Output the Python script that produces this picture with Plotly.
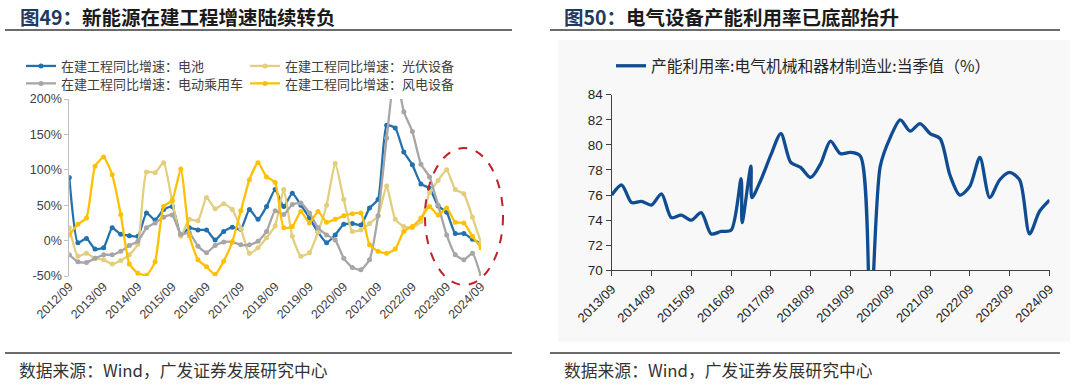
import plotly.graph_objects as go

W, H = 1080, 387
def px(x): return x / W
def py(y): return 1 - y / H

CJK = "Noto Sans CJK SC"
NUM = "Liberation Sans, Arial"

# ---------------- Left chart data (在建工程同比增速, %) ----------------
quarters = [f"{2012 + (8 + 3 * k) // 12}/{(8 + 3 * k) % 12 + 1:02d}" for k in range(49)]
year_ticks = quarters[::4]

battery = [89, -3, 3, -12, -10, 18, 9, 7, 6, 39, 29, 44, 48, 8, 18, 15, 15, 1, 13, 19,
           16, 44, 30, 48, 72, 48, 67, 50, 32, 12, -3, 8, 23, 24, 22, 46, 58, 163, 159, 125,
           107, 80, 74, 49, 40, 10, 10, 2, -4]
pv_equip = [18, -22, -18, -25, -27, -33, -28, -20, -5, 97, 96, 110, 55, 6, 30, 28, 61, 45, 52, 44,
            17, -18, -10, 4, 21, 72, 6, -22, -17, 12, 50, 109, 58, 13, 15, 24, 35, 77, 30, 20,
            18, 27, 68, 85, 100, 72, 66, 33, -3]
ev_car = [-20, -30, -31, -25, -20, -20, -15, -7, -1, 18, 25, 33, 36, 9, 11, -8, -17, -7, -2, -2,
          -6, -6, -1, 13, 42, 37, 51, 53, 39, 18, 8, 1, -25, -38, -41, -27, 35, 145, 240, 182,
          154, 108, 90, 50, 8, -20, -27, -18, -51]
wind_equip = [8, 23, 32, 105, 118, 93, 37, -33, -46, -49, -30, 48, 57, 101, 7, -27, -37, -48, -29, -2,
              42, 86, 110, 90, 82, 18, 20, 41, 25, 41, 26, 30, 35, 38, 39, -6, -15, -18, -12, 13,
              20, 32, 48, 36, 46, 26, 25, 6, -10]

left_names = ["在建工程同比增速：电池", "在建工程同比增速：光伏设备",
              "在建工程同比增速：电动乘用车", "在建工程同比增速：风电设备"]
left_colors = ["#2370AE", "#E3CE7E", "#A6A6A6", "#FFC000"]
left_series = [battery, pv_equip, ev_car, wind_equip]
left_legends = ["legend", "legend2", "legend3", "legend4"]
left_y_ticks = [-50, 0, 50, 100, 150, 200]
left_y_text = ["-50%", "0%", "50%", "100%", "150%", "200%"]

# ---------------- Right chart data (产能利用率, %) ----------------
cu_dates = ["2013-09-30", "2013-12-31", "2014-03-31", "2014-06-30", "2014-09-30", "2014-12-31",
            "2015-03-31", "2015-06-30", "2015-09-30", "2015-12-31", "2016-03-31", "2016-06-30",
            "2016-09-30", "2016-12-31", "2017-01-09", "2017-03-31", "2017-04-09", "2017-06-30",
            "2017-09-30", "2017-12-31", "2018-03-31", "2018-06-30", "2018-09-30", "2018-12-31",
            "2019-03-31", "2019-06-30", "2019-09-30", "2019-12-31", "2020-03-31", "2020-06-30",
            "2020-09-30", "2020-12-31", "2021-03-31", "2021-06-30", "2021-09-30", "2021-12-31",
            "2022-03-31", "2022-06-30", "2022-09-30", "2022-12-31", "2023-03-31", "2023-06-30",
            "2023-09-30", "2023-12-31", "2024-03-31", "2024-06-30", "2024-09-30"]
cu_values = [76.0, 76.8, 75.4, 75.5, 75.2, 76.1,
             74.2, 74.4, 74.0, 74.6, 72.9, 73.1,
             73.2, 77.3, 73.8, 78.3, 75.8, 77.2,
             79.2, 80.9, 78.6, 78.2, 77.4, 78.5,
             80.3, 79.3, 79.4, 79.1, 66.0, 78.3,
             80.6, 82.0, 81.1, 81.7, 80.9, 80.5,
             77.6, 76.0, 76.7, 79.0, 75.8, 77.2,
             77.8, 77.2, 72.9, 74.7, 75.6]
cu_name = "产能利用率:电气机械和器材制造业:当季值（%）"
right_tick_dates = [f"{y}-09-30" for y in range(2013, 2025)]
right_tick_text = [f"{y}/09" for y in range(2013, 2025)]
right_y_ticks = [70, 72, 74, 76, 78, 80, 82, 84]

fig = go.Figure()

for name, vals, col, lg in zip(left_names, left_series, left_colors, left_legends):
    fig.add_trace(go.Scatter(
        x=quarters, y=vals, name=name, mode="lines+markers",
        line=dict(color=col, width=2.3, shape="spline", smoothing=0.5),
        marker=dict(color=col, size=5),
        xaxis="x", yaxis="y", legend=lg,
    ))

fig.add_trace(go.Scatter(
    x=cu_dates, y=cu_values, name=cu_name, mode="lines",
    line=dict(color="#0F4C92", width=3.3, shape="spline", smoothing=0.8),
    xaxis="x2", yaxis="y2", legend="legend5",
))

# domains
lx0, lx1 = px(69.3), px(481)
ly0, ly1 = py(276), py(99)
rx0, rx1 = px(611.7), px(1049.5)
ry0, ry1 = py(270.3), py(94.7)
zero_pos = ly0 + (0 - (-50)) / (200 - (-50)) * (ly1 - ly0)

axis_font_l = dict(family=NUM, size=12.5, color="#404040")
axis_font_r = dict(family=NUM, size=13.5, color="#262626")

legend_common = dict(xref="container", yref="container", xanchor="left", yanchor="middle",
                     bgcolor="rgba(0,0,0,0)", borderwidth=0, itemwidth=30, orientation="h",
                     font=dict(family=CJK, size=13, color="#404040"))

fig.update_layout(
    width=W, height=H,
    margin=dict(l=0, r=0, t=0, b=0, autoexpand=False),
    paper_bgcolor="white", plot_bgcolor="rgba(0,0,0,0)",
    xaxis=dict(domain=[lx0, lx1], type="category", range=[0, 48], anchor="y",
               tickmode="array", tickvals=year_ticks, ticktext=year_ticks,
               tickangle=-45, tickfont=axis_font_l, showline=False, ticks="",
               showgrid=False, zeroline=False, automargin=False),
    xaxis3=dict(overlaying="x", type="linear", range=[0, 48], anchor="free", position=zero_pos,
                showline=True, linecolor="#A6A6A6", linewidth=1.5, ticks="outside", ticklen=4,
                tickcolor="#A6A6A6", tickmode="array", tickvals=list(range(0, 49, 4)),
                showticklabels=False, showgrid=False, zeroline=False, layer="below traces"),
    yaxis=dict(domain=[ly0, ly1], range=[-50, 200], anchor="x",
               tickmode="array", tickvals=left_y_ticks, ticktext=left_y_text,
               tickfont=axis_font_l, showline=True, linecolor="#BFBFBF", linewidth=1,
               ticks="outside", ticklen=4, tickcolor="#BFBFBF",
               showgrid=False, zeroline=False, automargin=False),
    xaxis2=dict(domain=[rx0, rx1], type="date", range=[right_tick_dates[0], right_tick_dates[-1]],
                anchor="y2", tickmode="array", tickvals=right_tick_dates, ticktext=right_tick_text,
                tickangle=-45, tickfont=dict(family=NUM, size=13, color="#262626"),
                showline=True, linecolor="#404040", linewidth=1.2, ticks="outside", ticklen=5,
                tickcolor="#404040", showgrid=False, zeroline=False, automargin=False),
    yaxis2=dict(domain=[ry0, ry1], range=[70, 84], anchor="x2",
                tickmode="array", tickvals=right_y_ticks, tickfont=axis_font_r,
                showline=True, linecolor="#404040", linewidth=1.2, ticks="outside", ticklen=5,
                tickcolor="#404040", showgrid=False, zeroline=False, automargin=False),
    legend=dict(legend_common, x=px(21), y=py(66)),
    legend2=dict(legend_common, x=px(245), y=py(66)),
    legend3=dict(legend_common, x=px(21), y=py(83.5)),
    legend4=dict(legend_common, x=px(245), y=py(83.5)),
    legend5=dict(legend_common, x=px(611), y=py(66), font=dict(family=CJK, size=15.8, color="#262626")),
    showlegend=True,
)

# panel background (right), rules, ellipse
shapes = [
    dict(type="rect", xref="paper", yref="paper", x0=px(558), x1=px(1070), y0=py(342), y1=py(40),
         fillcolor="#F8F8F8", line=dict(width=0), layer="below"),
    dict(type="line", xref="paper", yref="paper", x0=px(5), x1=px(512), y0=py(30), y1=py(30),
         line=dict(color="#3A3A3A", width=1.6)),
    dict(type="line", xref="paper", yref="paper", x0=px(550), x1=px(1060), y0=py(30), y1=py(30),
         line=dict(color="#3A3A3A", width=1.6)),
    dict(type="line", xref="paper", yref="paper", x0=px(5), x1=px(512), y0=py(353), y1=py(353),
         line=dict(color="#3A3A3A", width=1.6)),
    dict(type="line", xref="paper", yref="paper", x0=px(550), x1=px(1060), y0=py(353), y1=py(353),
         line=dict(color="#3A3A3A", width=1.6)),
    dict(type="circle", xref="paper", yref="paper", x0=px(425), x1=px(503), y0=py(285), y1=py(148),
         line=dict(color="#C0202A", width=2, dash="dash"), fillcolor="rgba(0,0,0,0)"),
]
fig.update_layout(shapes=shapes)

annotations = [
    dict(text="<b><span style='color:#1F3A60'>图49：</span>新能源在建工程增速陆续转负</b>",
         x=px(18), y=py(16.5), xref="paper", yref="paper", xanchor="left", yanchor="middle",
         showarrow=False, font=dict(family=CJK, size=19.5, color="#1A1A1A")),
    dict(text="<b><span style='color:#1F3A60'>图50：</span>电气设备产能利用率已底部抬升</b>",
         x=px(562), y=py(16.5), xref="paper", yref="paper", xanchor="left", yanchor="middle",
         showarrow=False, font=dict(family=CJK, size=19.5, color="#1A1A1A")),
    dict(text="数据来源：Wind，广发证券发展研究中心",
         x=px(17), y=py(370), xref="paper", yref="paper", xanchor="left", yanchor="middle",
         showarrow=False, font=dict(family=CJK, size=16.8, color="#333333")),
    dict(text="数据来源：Wind，广发证券发展研究中心",
         x=px(562), y=py(370), xref="paper", yref="paper", xanchor="left", yanchor="middle",
         showarrow=False, font=dict(family=CJK, size=16.8, color="#333333")),
]
fig.update_layout(annotations=annotations)

fig.write_html("out.html",
               config={"displayModeBar": False},
               post_script="document.body.style.margin='0';document.body.style.overflow='hidden';")
